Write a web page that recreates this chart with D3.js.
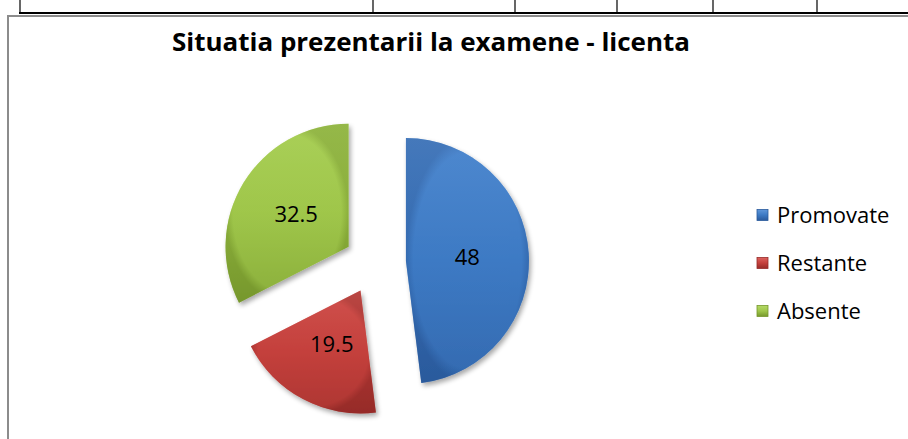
<!DOCTYPE html>
<html><head><meta charset="utf-8">
<script src="https://cdn.jsdelivr.net/npm/d3@7"></script>
<style>body{margin:0;background:#fff;}svg{display:block;}</style>
</head><body>
<svg id="c" width="908" height="439"></svg>
<script>
const categories = ["Promovate", "Restante", "Absente"];
const values = [48, 19.5, 32.5];
const labels = ["48", "19.5", "32.5"];
const colors = ["#3d7ac4", "#c4403c", "#9fc64a"];
const darkColors = ["#2a5a9c", "#962b28", "#76972c"];
const lightColors = ["#5f97da", "#dc625e", "#b4d966"];
const title = "Situatia prezentarii la examene - licenta";
const gridCols = [20, 373, 515, 617, 713, 817];

const svg = d3.select("#c");
const W = 908, H = 439;
const font = "'Open Sans', 'Noto Sans', sans-serif";

// spreadsheet cells above
svg.append("line").attr("x1", 19).attr("x2", W).attr("y1", 13).attr("y2", 13)
  .attr("stroke", "#000").attr("stroke-width", 2);
gridCols.forEach(x => svg.append("line").attr("x1", x).attr("x2", x).attr("y1", 0).attr("y2", 13)
  .attr("stroke", "#000").attr("stroke-width", 1.2));
// chart border
svg.append("path").attr("d", `M8,${H} L8,16 L${W},16`).attr("fill", "none")
  .attr("stroke", "#8c8c8c").attr("stroke-width", 2);

// title
svg.append("text").attr("x", 172).attr("y", 51).attr("font-family", font)
  .attr("font-weight", "bold").attr("font-size", 25).attr("fill", "#000")
  .attr("textLength", 518).attr("lengthAdjust", "spacingAndGlyphs").text(title);

const defs = svg.append("defs");
const filt = defs.append("filter").attr("id", "sh").attr("x", "-20%").attr("y", "-20%").attr("width", "140%").attr("height", "140%");
filt.append("feGaussianBlur").attr("in", "SourceAlpha").attr("stdDeviation", 2.5).attr("result", "b");
filt.append("feOffset").attr("in", "b").attr("dx", 2).attr("dy", 3).attr("result", "o");
filt.append("feComponentTransfer").attr("in", "o").attr("result", "o2")
  .append("feFuncA").attr("type", "linear").attr("slope", 0.35);
const fm = filt.append("feMerge");
fm.append("feMergeNode").attr("in", "o2");
fm.append("feMergeNode").attr("in", "SourceGraphic");

categories.forEach((c, i) => {
  const g = defs.append("radialGradient").attr("id", "g" + i)
    .attr("cx", "50%").attr("cy", "50%").attr("r", "50%").attr("gradientUnits", "objectBoundingBox");
  g.append("stop").attr("offset", "0%").attr("stop-color", colors[i]);
  g.append("stop").attr("offset", "88%").attr("stop-color", colors[i]);
  g.append("stop").attr("offset", "100%").attr("stop-color", darkColors[i]);
  const lg = defs.append("linearGradient").attr("id", "l" + i).attr("x1", 0).attr("y1", 0).attr("x2", 0).attr("y2", 1);
  lg.append("stop").attr("offset", "0%").attr("stop-color", lightColors[i]);
  lg.append("stop").attr("offset", "50%").attr("stop-color", colors[i]);
  lg.append("stop").attr("offset", "100%").attr("stop-color", darkColors[i]);
});

const cx = 375, cy = 263, R = 123, explode = 31;
const pie = d3.pie().sort(null).value(d => d.v);
const arcs = pie(categories.map((c, i) => ({c, v: values[i], i})));
const arc = d3.arc().innerRadius(0).outerRadius(R);

const gp = svg.append("g").attr("transform", `translate(${cx},${cy})`);
arcs.forEach(a => {
  const mid = (a.startAngle + a.endAngle) / 2;
  const dx = Math.sin(mid) * explode, dy = -Math.cos(mid) * explode;
  const sg = gp.append("g").attr("transform", `translate(${dx},${dy})`);
  sg.append("path").attr("d", arc(a)).attr("fill", `url(#l${a.data.i})`).attr("filter", "url(#sh)");
  sg.append("path").attr("d", arc(a)).attr("fill", `url(#g${a.data.i})`).attr("opacity", 0.5);
  const [lx, ly] = arc.centroid(a);
  sg.append("text").attr("x", lx).attr("y", ly).attr("dy", "0.35em").attr("text-anchor", "middle")
    .attr("font-family", font).attr("font-size", 22).attr("fill", "#000").text(labels[a.data.i]);
});

// legend
const ly0 = 215, lstep = 48;
categories.forEach((c, i) => {
  const y = ly0 + i * lstep;
  svg.append("rect").attr("x", 757).attr("y", y - 5.5).attr("width", 11).attr("height", 11)
    .attr("fill", `url(#l${i})`).attr("stroke", darkColors[i]).attr("stroke-width", 0.8);
  svg.append("text").attr("x", 777).attr("y", y).attr("dy", "0.35em").attr("font-family", font)
    .attr("font-size", 22).attr("fill", "#000").text(c);
});
</script>
</body></html>
